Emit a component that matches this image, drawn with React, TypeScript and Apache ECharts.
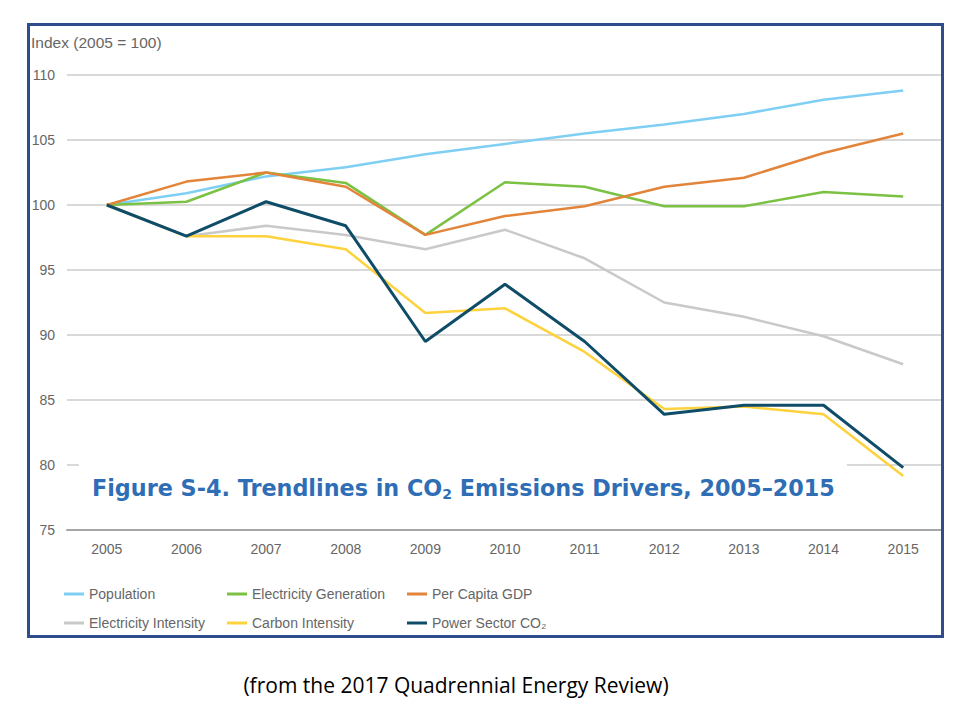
import React, { useEffect, useRef } from "react";
import * as echarts from "echarts";

const years = ["2005", "2006", "2007", "2008", "2009", "2010", "2011", "2012", "2013", "2014", "2015"];
const population = [100, 100.9, 102.2, 102.9, 103.9, 104.7, 105.5, 106.2, 107.0, 108.1, 108.8];
const electricityGeneration = [100, 100.25, 102.5, 101.7, 97.7, 101.75, 101.4, 99.9, 99.9, 101.0, 100.65];
const perCapitaGDP = [100, 101.8, 102.5, 101.4, 97.7, 99.15, 99.9, 101.4, 102.1, 104.0, 105.5];
const electricityIntensity = [100, 97.6, 98.4, 97.7, 96.6, 98.1, 95.9, 92.5, 91.4, 89.9, 87.75];
const carbonIntensity = [100, 97.6, 97.6, 96.6, 91.7, 92.05, 88.7, 84.3, 84.5, 83.9, 79.15];
const powerSectorCO2 = [100, 97.6, 100.25, 98.4, 89.5, 93.9, 89.5, 83.9, 84.6, 84.6, 79.8];

const seriesNames = [
  "Population",
  "Electricity Generation",
  "Per Capita GDP",
  "Electricity Intensity",
  "Carbon Intensity",
  "Power Sector CO₂",
];
const seriesColors = ["#7fcff4", "#7bc143", "#e2843a", "#c9c9c9", "#fdd23c", "#0f4c68"];
const seriesWidths = [2.5, 2.5, 2.5, 2.5, 2.5, 3];
const seriesData = [population, electricityGeneration, perCapitaGDP, electricityIntensity, carbonIntensity, powerSectorCO2];

const legendColumns = [
  [seriesNames[0], seriesNames[3]],
  [seriesNames[1], seriesNames[4]],
  [seriesNames[2], seriesNames[5]],
];

const yAxisTitle = "Index (2005 = 100)";
const figureTitle = "Figure S-4. Trendlines in CO{sub|2} Emissions Drivers, 2005–2015";
const caption = "(from the 2017 Quadrennial Energy Review)";

export default function App() {
  const ref = useRef<HTMLDivElement>(null);

  useEffect(() => {
    if (!ref.current) return;
    const chart = echarts.init(ref.current, undefined, { renderer: "svg" });
    const font = "Liberation Sans, Arial, sans-serif";
    const legendLefts = [64, 227, 407];

    chart.setOption({
      animation: false,
      backgroundColor: "#ffffff",
      textStyle: { fontFamily: font },
      grid: { left: 67, right: 17, top: 75, bottom: 190, containLabel: false },
      xAxis: {
        type: "category",
        data: years,
        boundaryGap: true,
        axisLine: { lineStyle: { color: "#a6a6a6", width: 2 } },
        axisTick: { show: false },
        axisLabel: { color: "#666666", fontSize: 14, margin: 12, fontFamily: font },
        splitLine: { show: false },
      },
      yAxis: {
        type: "value",
        min: 75,
        max: 110,
        interval: 5,
        axisLine: { show: false },
        axisTick: { show: false },
        axisLabel: { color: "#666666", fontSize: 14, margin: 12, fontFamily: font },
        splitLine: { lineStyle: { color: "#d9d9d9", width: 2 } },
      },
      legend: legendColumns.map((col, i) => ({
        data: col,
        left: legendLefts[i],
        top: 586,
        orient: "vertical",
        itemGap: 13,
        itemWidth: 20,
        itemHeight: 3,
        icon: "rect",
        padding: 0,
        selectedMode: false,
        textStyle: { color: "#666666", fontSize: 14, lineHeight: 16, fontFamily: font },
      })),
      series: seriesNames.map((name, i) => ({
        type: "line",
        name,
        data: seriesData[i],
        symbol: "none",
        lineStyle: { color: seriesColors[i], width: seriesWidths[i] },
        itemStyle: { color: seriesColors[i] },
        z: 2 + i * 0.1,
      })),
      graphic: [
        {
          type: "rect",
          z: 1,
          shape: { x: 79, y: 450, width: 768, height: 62 },
          style: { fill: "#ffffff" },
        },
        {
          type: "text",
          z: 20,
          x: 92,
          y: 488,
          style: {
            text: figureTitle,
            fontSize: 22.3,
            fontWeight: "bold",
            fontFamily: "DejaVu Sans, sans-serif",
            fill: "#2f6eb5",
            align: "left",
            verticalAlign: "middle",
            lineHeight: 26,
            rich: {
              sub: {
                fontSize: 14,
                fontWeight: "bold",
                fontFamily: "DejaVu Sans, sans-serif",
                fill: "#2f6eb5",
                lineHeight: 14,
                verticalAlign: "bottom",
              },
            },
          },
        },
        {
          type: "text",
          z: 20,
          x: 31,
          y: 42,
          style: {
            text: yAxisTitle,
            fontSize: 15.5,
            fontFamily: font,
            fill: "#666666",
            align: "left",
            verticalAlign: "middle",
          },
        },
        {
          type: "rect",
          z: 30,
          shape: { x: 28.5, y: 24.5, width: 914, height: 612 },
          style: { fill: "none", stroke: "#2f4d8c", lineWidth: 3 },
        },
        {
          type: "text",
          z: 20,
          x: 456,
          y: 685,
          style: {
            text: caption,
            fontSize: 21,
            fontFamily: "Open Sans, sans-serif",
            fill: "#000000",
            align: "center",
            verticalAlign: "middle",
          },
        },
      ],
    });

    return () => chart.dispose();
  }, []);

  return (
    <div
      ref={ref}
      style={{ position: "fixed", left: 0, top: 0, width: 960, height: 720, background: "#fff" }}
    />
  );
}
